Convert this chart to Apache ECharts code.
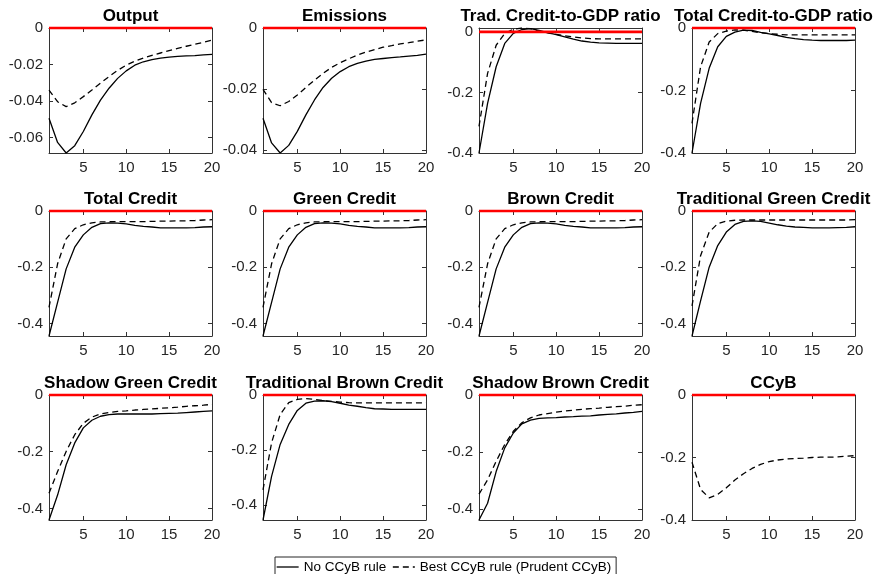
<!DOCTYPE html>
<html>
<head>
<meta charset="utf-8">
<script src="https://cdn.jsdelivr.net/npm/echarts@6/dist/echarts.min.js"></script>
<style>
  html, body { margin: 0; padding: 0; background: #fff; }
  #chart { width: 873px; height: 574px; }
</style>
</head>
<body>
<div id="chart"></div>
<script>
  // horizon (quarters)
  const periods = [1, 2, 3, 4, 5, 6, 7, 8, 9, 10, 11, 12, 13, 14, 15, 16, 17, 18, 19, 20]
  const seriesNames = ['No CCyB rule', 'Best CCyB rule (Prudent CCyB)']

  const titles = ['Output', 'Emissions', 'Trad. Credit-to-GDP ratio', 'Total Credit-to-GDP ratio',
    'Total Credit', 'Green Credit', 'Brown Credit', 'Traditional Green Credit',
    'Shadow Green Credit', 'Traditional Brown Credit', 'Shadow Brown Credit', 'CCyB']

  const outputNo = [-0.0495, -0.0627, -0.0685, -0.0645, -0.0567, -0.0476, -0.0395, -0.0330, -0.0276, -0.0235, -0.0204, -0.0185, -0.0173, -0.0165, -0.0160, -0.0156, -0.0153, -0.0151, -0.0147, -0.0144]
  const outputBest = [-0.0340, -0.0404, -0.0431, -0.0410, -0.0376, -0.0340, -0.0302, -0.0266, -0.0232, -0.0204, -0.0182, -0.0165, -0.0150, -0.0137, -0.0124, -0.0112, -0.0100, -0.0089, -0.0078, -0.0067]
  const emissionsNo = [-0.0296, -0.0377, -0.0410, -0.0385, -0.0339, -0.0285, -0.0236, -0.0195, -0.0165, -0.0143, -0.0127, -0.0116, -0.0109, -0.0103, -0.0100, -0.0097, -0.0095, -0.0092, -0.0090, -0.0086]
  const emissionsBest = [-0.0201, -0.0245, -0.0255, -0.0241, -0.0220, -0.0195, -0.0171, -0.0149, -0.0129, -0.0114, -0.0101, -0.0089, -0.0079, -0.0071, -0.0063, -0.0058, -0.0052, -0.0048, -0.0043, -0.0039]
  const tradRatioNo = [-0.400, -0.236, -0.115, -0.038, -0.005, 0.008, 0.011, 0.005, -0.002, -0.009, -0.016, -0.024, -0.030, -0.034, -0.036, -0.037, -0.038, -0.038, -0.038, -0.038]
  const tradRatioBest = [-0.312, -0.137, -0.044, -0.005, 0.009, 0.013, 0.011, 0.003, -0.003, -0.008, -0.013, -0.016, -0.020, -0.022, -0.023, -0.023, -0.023, -0.023, -0.023, -0.023]
  const totalRatioNo = [-0.400, -0.241, -0.129, -0.060, -0.027, -0.013, -0.007, -0.008, -0.014, -0.019, -0.024, -0.030, -0.034, -0.037, -0.039, -0.040, -0.040, -0.040, -0.040, -0.039]
  const totalRatioBest = [-0.305, -0.124, -0.045, -0.018, -0.010, -0.006, -0.007, -0.011, -0.015, -0.018, -0.020, -0.022, -0.022, -0.022, -0.022, -0.022, -0.022, -0.022, -0.022, -0.022]
  const totalCreditNo = [-0.445, -0.325, -0.206, -0.129, -0.085, -0.058, -0.045, -0.042, -0.043, -0.046, -0.051, -0.055, -0.057, -0.060, -0.060, -0.060, -0.060, -0.059, -0.057, -0.056]
  const totalCreditBest = [-0.343, -0.188, -0.099, -0.063, -0.049, -0.042, -0.039, -0.038, -0.038, -0.038, -0.038, -0.038, -0.037, -0.036, -0.036, -0.035, -0.035, -0.034, -0.032, -0.031]
  const greenCreditNo = [-0.445, -0.325, -0.206, -0.129, -0.085, -0.058, -0.045, -0.042, -0.043, -0.046, -0.051, -0.055, -0.057, -0.060, -0.060, -0.060, -0.060, -0.059, -0.057, -0.056]
  const greenCreditBest = [-0.343, -0.188, -0.099, -0.063, -0.049, -0.042, -0.039, -0.038, -0.038, -0.038, -0.038, -0.038, -0.037, -0.036, -0.036, -0.035, -0.035, -0.034, -0.032, -0.031]
  const brownCreditNo = [-0.445, -0.325, -0.206, -0.129, -0.085, -0.058, -0.045, -0.042, -0.043, -0.046, -0.051, -0.055, -0.057, -0.060, -0.060, -0.060, -0.060, -0.059, -0.057, -0.056]
  const brownCreditBest = [-0.343, -0.188, -0.099, -0.063, -0.049, -0.042, -0.039, -0.038, -0.038, -0.038, -0.038, -0.038, -0.037, -0.036, -0.036, -0.035, -0.035, -0.034, -0.032, -0.031]
  const tradGreenNo = [-0.445, -0.320, -0.200, -0.123, -0.075, -0.048, -0.037, -0.035, -0.037, -0.043, -0.049, -0.054, -0.057, -0.058, -0.060, -0.060, -0.060, -0.059, -0.058, -0.056]
  const tradGreenBest = [-0.338, -0.159, -0.075, -0.045, -0.036, -0.033, -0.032, -0.032, -0.032, -0.032, -0.032, -0.032, -0.032, -0.032, -0.032, -0.032, -0.032, -0.032, -0.032, -0.031]
  const shadowGreenNo = [-0.441, -0.353, -0.246, -0.169, -0.116, -0.089, -0.075, -0.069, -0.067, -0.067, -0.067, -0.067, -0.067, -0.066, -0.065, -0.064, -0.062, -0.060, -0.058, -0.056]
  const shadowGreenBest = [-0.347, -0.270, -0.199, -0.140, -0.100, -0.078, -0.067, -0.062, -0.058, -0.056, -0.053, -0.051, -0.049, -0.047, -0.045, -0.043, -0.040, -0.038, -0.036, -0.033]
  const tradBrownNo = [-0.455, -0.296, -0.180, -0.107, -0.056, -0.030, -0.022, -0.021, -0.024, -0.030, -0.037, -0.041, -0.046, -0.050, -0.051, -0.052, -0.052, -0.052, -0.052, -0.052]
  const tradBrownBest = [-0.345, -0.174, -0.071, -0.028, -0.016, -0.013, -0.016, -0.020, -0.023, -0.026, -0.028, -0.029, -0.029, -0.029, -0.029, -0.029, -0.029, -0.029, -0.029, -0.028]
  const shadowBrownNo = [-0.4375, -0.379, -0.268, -0.185, -0.133, -0.101, -0.088, -0.082, -0.080, -0.079, -0.077, -0.076, -0.074, -0.073, -0.070, -0.068, -0.066, -0.063, -0.061, -0.057]
  const shadowBrownBest = [-0.347, -0.297, -0.232, -0.173, -0.127, -0.097, -0.080, -0.070, -0.065, -0.060, -0.056, -0.053, -0.050, -0.048, -0.046, -0.043, -0.041, -0.039, -0.036, -0.034]
  const ccybBest = [-0.215, -0.302, -0.329, -0.318, -0.297, -0.272, -0.252, -0.235, -0.222, -0.213, -0.208, -0.205, -0.203, -0.202, -0.200, -0.199, -0.199, -0.198, -0.196, -0.194]

  // per panel: [no rule, best rule]
  const panelData = [
    [outputNo, outputBest], [emissionsNo, emissionsBest], [tradRatioNo, tradRatioBest], [totalRatioNo, totalRatioBest],
    [totalCreditNo, totalCreditBest], [greenCreditNo, greenCreditBest], [brownCreditNo, brownCreditBest], [tradGreenNo, tradGreenBest],
    [shadowGreenNo, shadowGreenBest], [tradBrownNo, tradBrownBest], [shadowBrownNo, shadowBrownBest], [null, ccybBest]
  ]
  const yMin = [-0.0685, -0.041, -0.4, -0.4, -0.445, -0.445, -0.445, -0.445, -0.441, -0.455, -0.4375, -0.4]
  const yMax = [0, 0, 0.013, 0, 0, 0, 0, 0, 0, 0, 0, 0]
  const yTicks = [
    [0, -0.02, -0.04, -0.06], [0, -0.02, -0.04], [0, -0.2, -0.4], [0, -0.2, -0.4],
    [0, -0.2, -0.4], [0, -0.2, -0.4], [0, -0.2, -0.4], [0, -0.2, -0.4],
    [0, -0.2, -0.4], [0, -0.2, -0.4], [0, -0.2, -0.4], [0, -0.2, -0.4]
  ]
  const xTicks = [5, 10, 15, 20]

  const font = '"Liberation Sans", Arial, Helvetica, sans-serif'
  const axisColor = '#333'
  const colLeft = [49, 263, 479, 692]
  const rowTop = [28, 211, 395]
  const plotW = 163
  const plotH = 125

  const grid = [], xAxis = [], yAxis = [], series = [], title = []

  titles.forEach((t, k) => {
    const r = Math.floor(k / 4), c = k % 4
    grid.push({ left: colLeft[c], top: rowTop[r], width: plotW, height: plotH })
    title.push({
      text: t, left: colLeft[c] + plotW / 2, top: rowTop[r] - 20, textAlign: 'center', padding: 0,
      textStyle: { fontSize: 17, fontWeight: 'bold', color: '#000', fontFamily: font }
    })
    const tickStyle = { inside: true, length: 4, lineStyle: { color: axisColor } }
    // bottom + top x axes
    xAxis.push({
      type: 'value', gridIndex: k, min: 1, max: 20, position: 'bottom',
      axisLine: { onZero: false, lineStyle: { color: axisColor, width: 1 } },
      axisTick: Object.assign({ customValues: xTicks }, tickStyle),
      axisLabel: { customValues: xTicks, margin: 7, fontSize: 15, color: '#262626', fontFamily: font },
      splitLine: { show: false }
    })
    xAxis.push({
      type: 'value', gridIndex: k, min: 1, max: 20, position: 'top',
      axisLine: { onZero: false, lineStyle: { color: axisColor, width: 1 } },
      axisTick: Object.assign({ customValues: xTicks }, tickStyle),
      axisLabel: { show: false },
      splitLine: { show: false }
    })
    // left + right y axes
    yAxis.push({
      type: 'value', gridIndex: k, min: yMin[k], max: yMax[k], position: 'left',
      axisLine: { show: true, onZero: false, lineStyle: { color: axisColor, width: 1 } },
      axisTick: Object.assign({ show: true, customValues: yTicks[k] }, tickStyle),
      axisLabel: { customValues: yTicks[k], margin: 6, fontSize: 15, color: '#262626', fontFamily: font,
        formatter: v => String(v) },
      splitLine: { show: false }
    })
    yAxis.push({
      type: 'value', gridIndex: k, min: yMin[k], max: yMax[k], position: 'right',
      axisLine: { show: true, onZero: false, lineStyle: { color: axisColor, width: 1 } },
      axisTick: Object.assign({ show: true, customValues: yTicks[k] }, tickStyle),
      axisLabel: { show: false },
      splitLine: { show: false }
    })

    const [noRule, bestRule] = panelData[k]
    if (noRule) {
      series.push({
        name: seriesNames[0], type: 'line', xAxisIndex: 2 * k, yAxisIndex: 2 * k,
        data: periods.map((p, i) => [p, noRule[i]]), symbol: 'none', silent: true,
        lineStyle: { color: '#000', width: 1.3, type: 'solid' }, itemStyle: { color: '#000' }, z: 3
      })
    }
    series.push({
      name: seriesNames[1], type: 'line', xAxisIndex: 2 * k, yAxisIndex: 2 * k,
      data: periods.map((p, i) => [p, bestRule[i]]), symbol: 'none', silent: true,
      lineStyle: { color: '#000', width: 1.3, type: [6, 4] }, itemStyle: { color: '#000' }, z: 3
    })
    // zero reference line
    series.push({
      name: 'zero', type: 'line', xAxisIndex: 2 * k, yAxisIndex: 2 * k,
      data: [[periods[0], 0], [periods[periods.length - 1], 0]], symbol: 'none', silent: true, clip: false,
      lineStyle: { color: '#ff0000', width: 2.7 }, z: 4
    })
  })

  const myChart = echarts.init(document.getElementById('chart'), null, { renderer: 'canvas' })
  myChart.setOption({
    animation: false,
    backgroundColor: '#fff',
    title,
    grid,
    xAxis,
    yAxis,
    series,
    legend: {
      data: seriesNames,
      left: 275, top: 557,
      itemWidth: 22, itemHeight: 12, itemGap: 6,
      padding: [3, 5, 6, 1],
      borderColor: '#262626', borderWidth: 1, backgroundColor: '#fff',
      selectedMode: false,
      itemStyle: { opacity: 0 },   // hide the symbol, keep just the line
      lineStyle: { color: '#000', width: 1.3 },
      textStyle: { fontSize: 13.5, color: '#000', fontFamily: font }
    }
  })
</script>
</body>
</html>
